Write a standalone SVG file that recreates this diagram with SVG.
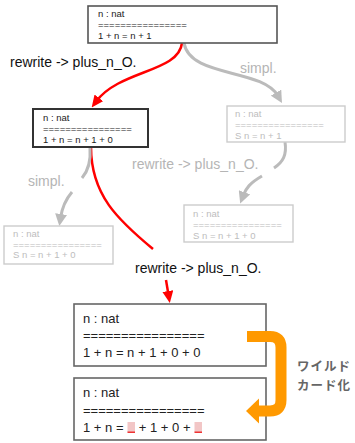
<svg xmlns="http://www.w3.org/2000/svg" width="355" height="443" viewBox="0 0 355 443">
  <style>
    text { font-family: "Liberation Sans", Arial, sans-serif; }
    .box { fill: #fff; }
    .dark { stroke: #555; stroke-width: 1.6; }
    .darker { stroke: #333; stroke-width: 2; }
    .faint { stroke: #ccc; stroke-width: 1.4; }
    .goal { stroke: #666; stroke-width: 1.6; }
    .s { font-size: 9.5px; fill: #222; }
    .sf { font-size: 9.5px; fill: #bdbdbd; }
    .m { font-size: 13px; fill: #222; }
    .lbl { font-size: 14px; fill: #111; }
    .lblf { font-size: 14px; fill: #b5b5b5; }
    .red { fill: none; stroke: #f00; stroke-width: 2.5; }
    .gray { fill: none; stroke: #bbb; stroke-width: 3; }
    .jp { font-family: "Noto Sans CJK JP", sans-serif; font-size: 12.5px; letter-spacing: 1px; font-weight: bold; fill: #666; }
    .hole { fill: #f2c6c6; }
    .hole-mark { fill: #e33; }
  </style>
  <defs>
    <marker id="ahRed" markerUnits="userSpaceOnUse" markerWidth="12" markerHeight="11" refX="4" refY="5.5" orient="auto">
      <path d="M0,0 L12,5.5 L0,11 z" fill="#f00"/>
    </marker>
    <marker id="ahGray" markerUnits="userSpaceOnUse" markerWidth="12" markerHeight="12" refX="4" refY="6" orient="auto">
      <path d="M0,0 L12,6 L0,12 z" fill="#bbb"/>
    </marker>
  </defs>

  <g id="connectors">
    <!-- red: chosen rewrite path -->
    <path class="red" d="M182,43 C179,72 120,70 96.5,101" marker-end="url(#ahRed)"/>
    <path class="red" d="M91,147 C91,195 118,220 153,249"/>
    <path class="red" d="M166,280 L168.5,295" marker-end="url(#ahRed)"/>
    <!-- gray: alternative steps -->
    <path class="gray" d="M184,43 C190,78 262,68 278,96" marker-end="url(#ahGray)"/>
    <path class="gray" d="M285,142 C287,155 283,162 274,168"/>
    <path class="gray" d="M262,176 C250,183 246,188 243,196" marker-end="url(#ahGray)"/>
    <path class="gray" d="M90,148 C91,162 88,171 82,178"/>
    <path class="gray" d="M72,192 C66,199 62,208 60.5,218" marker-end="url(#ahGray)"/>
    <text class="lbl" x="10" y="67">rewrite -&gt; plus_n_O.</text>
    <text class="lblf" x="240" y="73">simpl.</text>
    <text class="lblf" x="132" y="169">rewrite -&gt; plus_n_O.</text>
    <text class="lblf" x="28" y="186">simpl.</text>
    <text class="lbl" x="135" y="273">rewrite -&gt; plus_n_O.</text>
  </g>

  <g id="goal-start">
    <rect class="box dark" x="88" y="6" width="189" height="37"/>
    <text class="s" x="98" y="17">n : nat</text>
    <text class="s" x="98" y="28">================</text>
    <text class="s" x="98" y="39">1 + n = n + 1</text>
  </g>

  <g id="goal-rewritten">
    <rect class="box darker" x="33" y="109" width="115" height="38"/>
    <text class="s" x="43" y="120.5">n : nat</text>
    <text class="s" x="43" y="131.5">================</text>
    <text class="s" x="43" y="142.5">1 + n = n + 1 + 0</text>
  </g>

  <g id="goal-simpl">
    <rect class="box faint" x="227" y="106" width="118" height="36"/>
    <text class="sf" x="235" y="117">n : nat</text>
    <text class="sf" x="235" y="128">================</text>
    <text class="sf" x="235" y="139">S n = n + 1</text>
  </g>

  <g id="goal-simpl-rewrite">
    <rect class="box faint" x="184" y="205" width="109" height="37"/>
    <text class="sf" x="193" y="216.5">n : nat</text>
    <text class="sf" x="193" y="227.5">================</text>
    <text class="sf" x="193" y="238.5">S n = n + 1 + 0</text>
  </g>

  <g id="goal-rewrite-simpl">
    <rect class="box faint" x="4" y="226" width="109" height="38"/>
    <text class="sf" x="13" y="237">n : nat</text>
    <text class="sf" x="13" y="247.5">================</text>
    <text class="sf" x="13" y="258">S n = n + 1 + 0</text>
  </g>

  <g id="goal-twice">
    <rect class="box goal" x="74" y="304" width="192" height="62"/>
    <text class="m" x="83" y="323">n : nat</text>
    <text class="m" x="83" y="340">================</text>
    <text class="m" x="83" y="357">1 + n = n + 1 + 0 + 0</text>
  </g>

  <g id="goal-wildcard">
    <rect class="box goal" x="74" y="378" width="192" height="62"/>
    <text class="m" x="83" y="397">n : nat</text>
    <text class="m" x="83" y="414.5">================</text>
    <text class="m" x="83" y="432">1 + n =</text>
    <rect class="hole" x="127.5" y="422" width="7.5" height="10"/>
    <rect class="hole-mark" x="127.5" y="431.5" width="7.5" height="1.5"/>
    <text class="m" x="138.8" y="432">+ 1 + 0 +</text>
    <rect class="hole" x="194.5" y="422" width="7.5" height="10"/>
    <rect class="hole-mark" x="194.5" y="431.5" width="7.5" height="1.5"/>
  </g>

  <g id="wildcard-step">
    <path d="M247,336.5 H270 Q281,336.5 281,347.5 V400 Q281,411 270,411 H257" fill="none" stroke="#f90" stroke-width="11"/>
    <path d="M246,411 L259,398.5 L259,423.5 z" fill="#f90"/>
    <text class="jp" x="297" y="371">ワイルド</text>
    <text class="jp" x="297" y="390">カード化</text>
  </g>
</svg>
